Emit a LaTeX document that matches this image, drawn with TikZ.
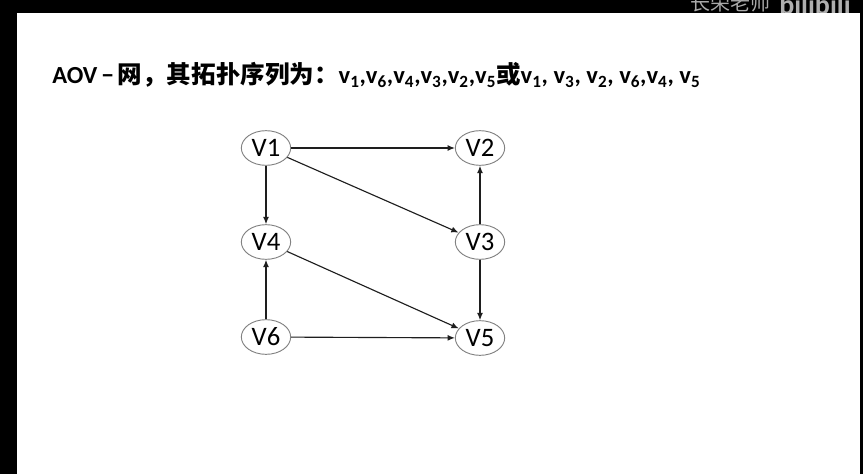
\documentclass[tikz,border=0pt]{standalone}
\usepackage{fontspec}
\setmainfont{Carlito}
\newfontfamily\cjk{Noto Sans CJK SC}
\usetikzlibrary{shapes.geometric,arrows.meta}
\newcommand{\vsub}[1]{v\textsubscript{#1}}
\begin{document}
\begin{tikzpicture}[x=0.75pt,y=0.75pt,yscale=-1,xscale=1,
  vnode/.style={draw={rgb,255:red,130;green,130;blue,130},line width=0.7pt,ellipse,minimum width=37pt,minimum height=26pt,inner sep=0pt,font=\fontsize{20}{20}\selectfont},
  arc/.style={draw={rgb,255:red,30;green,30;blue,30},line width=0.85pt,-{Latex[length=5.5pt,width=4.5pt]}}]
	\useasboundingbox (0,0) rectangle (863,474);
	\fill [black] (0,0) rectangle (863,474);
	\fill [white] (17,13) rectangle (860,474);
	\begin{scope}
	\clip (0,0) rectangle (863,13);
	\draw (690,11) node [anchor=base west,inner sep=0pt,color={rgb,255:red,170;green,170;blue,170}] {\fontsize{15}{15}\selectfont\cjk 长荣老师};
	\draw (779,15) node [anchor=base west,inner sep=0pt,color={rgb,255:red,175;green,175;blue,175}] {\fontsize{21}{21}\selectfont\bfseries bilibili};
	\end{scope}
	\draw (52,75) node [anchor=west,inner sep=0pt] (title) {\fontsize{18.4}{18.4}\selectfont\bfseries AOV\,−\,{\cjk 网，其拓扑序列为：}\vsub{1},\vsub{6},\vsub{4},\vsub{3},\vsub{2},\vsub{5}{\cjk 或}\vsub{1}, \vsub{3}, \vsub{2}, \vsub{6},\vsub{4}, \vsub{5}};
	\node [vnode] (v1) at (266,148) {V1};
	\node [vnode] (v2) at (480,148) {V2};
	\node [vnode] (v4) at (266,242) {V4};
	\node [vnode] (v3) at (480,242) {V3};
	\node [vnode] (v6) at (266,337) {V6};
	\node [vnode] (v5) at (480,338) {V5};
	\draw [arc] (v1) -- (v2);
	\draw [arc] (v1) -- (v4);
	\draw [arc] (v1) -- (v3);
	\draw [arc] (v3) -- (v2);
	\draw [arc] (v4) -- (v5);
	\draw [arc] (v3) -- (v5);
	\draw [arc] (v6) -- (v4);
	\draw [arc] (v6) -- (v5);
\end{tikzpicture}
\end{document}
